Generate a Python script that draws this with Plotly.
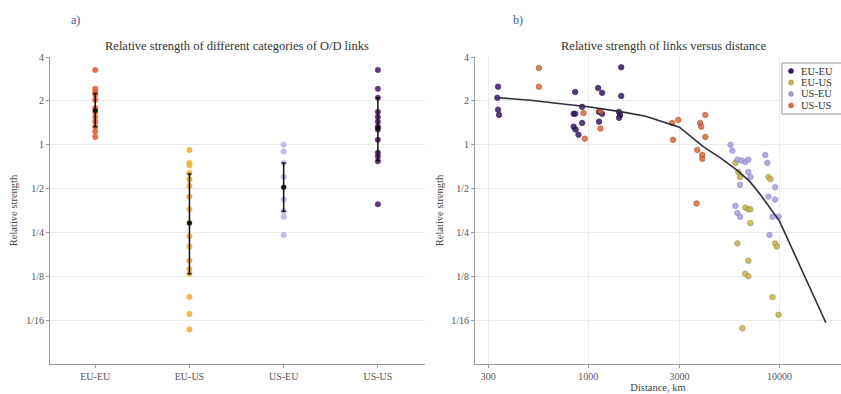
import plotly.graph_objects as go
import numpy as np

# ---------------- panel a) : strength per link category ----------------
categories = ["EU-EU", "EU-US", "US-EU", "US-US"]
cat_colors = ["#e0572e", "#e9b22e", "#b9aee2", "#4a145e"]

strength_eu_eu = [3.26, 2.42, 2.3, 2.2, 2.03, 1.79, 1.68, 1.55, 1.44, 1.33, 1.23, 1.13]
strength_eu_us = [0.92, 0.75, 0.72, 0.64, 0.58, 0.52, 0.44, 0.36, 0.29, 0.235, 0.2, 0.16,
                  0.14, 0.13, 0.09, 0.069, 0.054]
strength_us_eu = [1.0, 0.9, 0.75, 0.6, 0.51, 0.42, 0.35, 0.32, 0.24]
strength_us_us = [3.26, 2.42, 2.1, 1.68, 1.55, 1.44, 1.33, 1.27, 1.08, 0.88, 0.83, 0.77, 0.39]
cat_strengths = [strength_eu_eu, strength_eu_us, strength_us_eu, strength_us_us]

# black summary bars: lower end, median, upper end
summary_low = [1.33, 0.13, 0.35, 0.78]
summary_mid = [1.72, 0.29, 0.51, 1.3]
summary_high = [2.25, 0.63, 0.75, 2.1]

# ---------------- panel b) : strength versus distance ----------------
series_names = ["EU-EU", "EU-US", "US-EU", "US-US"]
series_colors = ["#3b1766", "#c9b54a", "#a9a0e0", "#d9693f"]
series_edges = ["#2a0f4a", "#9a8a40", "#8a84b8", "#a8502f"]

dist_eu_eu = [338, 335, 338, 342, 855, 840, 855, 930, 930, 840, 860, 890,
              1128, 1183, 1140, 1183, 1140, 1489, 1489, 1450, 1470, 1450]
str_eu_eu = [2.5, 2.1, 1.74, 1.6, 2.3, 1.63, 1.63, 1.82, 1.41, 1.33, 1.27, 1.17,
             2.45, 2.27, 1.68, 1.63, 1.44, 3.4, 2.16, 1.68, 1.6, 1.53]

dist_eu_us = [5890, 6100, 6230, 8770, 8990, 6630, 6880, 7050, 7050, 6030, 9500, 9700,
              6880, 6630, 6880, 9200, 9900, 6400]
str_eu_us = [0.75, 0.65, 0.6, 0.6, 0.58, 0.37, 0.36, 0.36, 0.29, 0.21, 0.21, 0.2,
             0.16, 0.13, 0.125, 0.09, 0.068, 0.055]

dist_us_eu = [5550, 5680, 6030, 6350, 6630, 6880, 6230, 6880, 7050, 8440, 8650, 9500,
              8770, 9500, 9200, 9900, 5890, 6030, 6230, 8880]
str_us_eu = [1.0, 0.91, 0.79, 0.78, 0.76, 0.79, 0.53, 0.65, 0.6, 0.85, 0.75, 0.51,
             0.44, 0.42, 0.32, 0.32, 0.38, 0.34, 0.32, 0.24]

dist_us_us = [553, 553, 945, 960, 1160, 1160, 2750, 2960, 2780, 3720, 3950, 3950,
              3850, 3900, 4100, 4100, 3690]
str_us_us = [3.36, 2.5, 1.65, 1.1, 1.7, 1.29, 1.41, 1.48, 1.08, 0.92, 0.85, 0.80,
             1.41, 1.33, 1.6, 1.13, 0.395]

series_dist = [dist_eu_eu, dist_eu_us, dist_us_eu, dist_us_us]
series_str = [str_eu_eu, str_eu_us, str_us_eu, str_us_us]

# fitted trend of strength against distance
fit_dist = [340, 500, 700, 1000, 1500, 2000, 3000, 4000, 5000, 6000, 7000, 8000, 10000, 17500]
fit_str = [2.1, 2.02, 1.92, 1.82, 1.68, 1.57, 1.32, 0.97, 0.8, 0.67, 0.56, 0.45, 0.3, 0.06]

ytick_vals = [1/16, 1/8, 1/4, 1/2, 1, 2, 4]
ytick_text = ["1/16", "1/8", "1/4", "1/2", "1", "2", "4"]
xtick_vals = [300, 1000, 3000, 10000]
xtick_text = ["300", "1000", "3000", "10000"]

W, H = 841, 394
FONT = "Liberation Serif"
TICK_SIZE = 10
LABEL_SIZE = 10.5
TITLE_SIZE = 12.5

fig = go.Figure()

# panel a) scatter columns
for i, (name, vals) in enumerate(zip(categories, cat_strengths)):
    fig.add_trace(go.Scatter(
        x=[i + 1] * len(vals), y=vals, mode="markers",
        marker=dict(size=5.5, color=cat_colors[i], opacity=0.85,
                    line=dict(width=0.5, color=cat_colors[i])),
        showlegend=False, xaxis="x", yaxis="y", hoverinfo="y"))

# panel a) black summary bars
fig.add_trace(go.Scatter(
    x=[1, 2, 3, 4], y=summary_mid, mode="markers",
    marker=dict(size=5, color="#111111"),
    error_y=dict(type="data", symmetric=False,
                 array=list(np.array(summary_high) - np.array(summary_mid)),
                 arrayminus=list(np.array(summary_mid) - np.array(summary_low)),
                 color="#111111", thickness=1.5, width=2),
    showlegend=False, xaxis="x", yaxis="y"))

# panel b) scatter by series
for i, name in enumerate(series_names):
    fig.add_trace(go.Scatter(
        x=series_dist[i], y=series_str[i], mode="markers", name=name,
        marker=dict(size=5.5, color=series_colors[i], opacity=0.85,
                    line=dict(width=0.8, color=series_edges[i])),
        showlegend=False, xaxis="x2", yaxis="y2"))

fig.add_trace(go.Scatter(
    x=fit_dist, y=fit_str, mode="lines",
    line=dict(color="#2e2e3a", width=1.6),
    showlegend=False, xaxis="x2", yaxis="y2"))

axis_common = dict(showline=True, linecolor="#9a9a9a", linewidth=1,
                   ticks="outside", ticklen=3, tickcolor="#9a9a9a",
                   tickfont=dict(family=FONT, size=TICK_SIZE, color="#555555"),
                   gridcolor="#ebebeb", gridwidth=1, zeroline=False)

y_dom = [1 - 364 / H, 1 - 57 / H]
y_range = [np.log10(1 / 32), np.log10(4)]
label_font = dict(family=FONT, size=LABEL_SIZE, color="#444444")

fig.update_layout(
    width=W, height=H,
    margin=dict(l=0, r=0, t=0, b=0, autoexpand=False),
    paper_bgcolor="white", plot_bgcolor="white",
    font=dict(family=FONT, size=TICK_SIZE, color="#444444"),
    xaxis=dict(domain=[50 / W, 425 / W], range=[0.52, 4.5],
               tickvals=[1, 2, 3, 4], ticktext=categories,
               showgrid=False, anchor="y", **axis_common),
    yaxis=dict(domain=y_dom, type="log", range=y_range,
               tickvals=ytick_vals, ticktext=ytick_text,
               showgrid=True, anchor="x",
               title=dict(text="Relative strength", standoff=6, font=label_font),
               **axis_common),
    xaxis2=dict(domain=[475 / W, 1.0], type="log",
                range=[np.log10(256), np.log10(21000)],
                tickvals=xtick_vals, ticktext=xtick_text,
                showgrid=True, anchor="y2",
                title=dict(text="Distance, km", standoff=0, font=label_font),
                **axis_common),
    yaxis2=dict(domain=y_dom, type="log", range=y_range,
                tickvals=ytick_vals, ticktext=ytick_text,
                showgrid=True, anchor="x2",
                title=dict(text="Relative strength", standoff=5, font=label_font),
                **axis_common),
)

annotations = [
    dict(text="a)", x=75 / W, y=1 - 20 / H, xref="paper", yref="paper",
         xanchor="center", yanchor="middle", showarrow=False,
         font=dict(family=FONT, size=12, color="#3c5a96")),
    dict(text="b)", x=518 / W, y=1 - 20 / H, xref="paper", yref="paper",
         xanchor="center", yanchor="middle", showarrow=False,
         font=dict(family=FONT, size=12, color="#3c5a96")),
    dict(text="Relative strength of different categories of O/D links",
         x=237 / W, y=1 - 46 / H, xref="paper", yref="paper",
         xanchor="center", yanchor="middle", showarrow=False,
         font=dict(family=FONT, size=TITLE_SIZE, color="#333333")),
    dict(text="Relative strength of links versus distance",
         x=664 / W, y=1 - 46 / H, xref="paper", yref="paper",
         xanchor="center", yanchor="middle", showarrow=False,
         font=dict(family=FONT, size=TITLE_SIZE, color="#333333")),
]

# legend box for panel b)
shapes = [dict(type="rect", xref="paper", yref="paper",
               x0=782 / W, x1=850 / W, y0=1 - 114 / H, y1=1 - 63 / H,
               line=dict(color="#9a9a9a", width=1), fillcolor="white", layer="above")]
for i, name in enumerate(series_names):
    yc = 71 + i * 11.5
    shapes.append(dict(type="circle", xref="paper", yref="paper",
                       x0=(791 - 2.5) / W, x1=(791 + 2.5) / W,
                       y0=1 - (yc + 2.5) / H, y1=1 - (yc - 2.5) / H,
                       fillcolor=series_colors[i], line=dict(color=series_edges[i], width=0.5),
                       layer="above"))
    annotations.append(dict(text=name, x=799 / W, y=1 - yc / H, xref="paper", yref="paper",
                            xanchor="left", yanchor="middle", showarrow=False,
                            font=dict(family=FONT, size=10.5, color="#333333")))

fig.update_layout(annotations=annotations, shapes=shapes)

fig.write_html("out.html")
